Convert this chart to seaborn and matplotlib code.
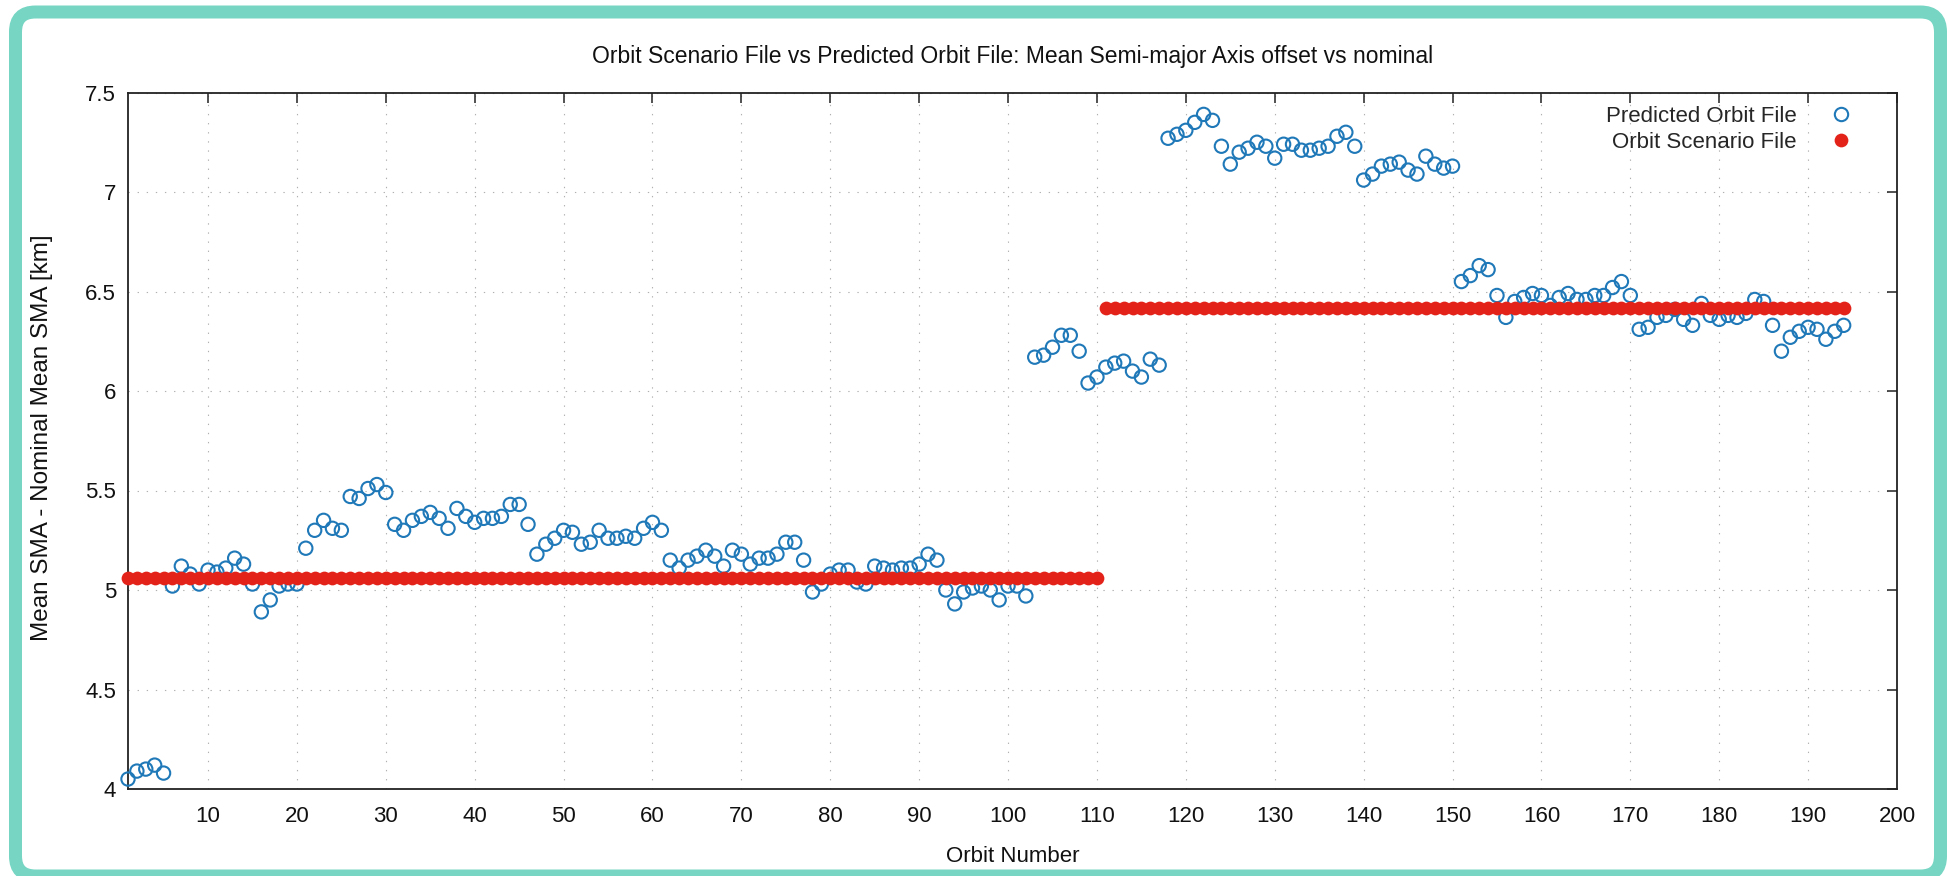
import matplotlib
matplotlib.use("Agg")
import matplotlib.pyplot as plt
import matplotlib.transforms as mtransforms
from matplotlib.patches import FancyBboxPatch
from matplotlib.lines import Line2D
import numpy as np
import pandas as pd
import seaborn as sns

# ---------------- data ----------------
orbit_number = list(range(1, 195))

predicted_sma = [
    4.05, 4.09, 4.10, 4.12, 4.08, 5.02, 5.12, 5.08, 5.03, 5.10,   # 1-10
    5.09, 5.11, 5.16, 5.13, 5.03, 4.89, 4.95, 5.02, 5.03, 5.03,   # 11-20
    5.21, 5.30, 5.35, 5.31, 5.30, 5.47, 5.46, 5.51, 5.53, 5.49,   # 21-30
    5.33, 5.30, 5.35, 5.37, 5.39, 5.36, 5.31, 5.41, 5.37, 5.34,   # 31-40
    5.36, 5.36, 5.37, 5.43, 5.43, 5.33, 5.18, 5.23, 5.26, 5.30,   # 41-50
    5.29, 5.23, 5.24, 5.30, 5.26, 5.26, 5.27, 5.26, 5.31, 5.34,   # 51-60
    5.30, 5.15, 5.11, 5.15, 5.17, 5.20, 5.17, 5.12, 5.20, 5.18,   # 61-70
    5.13, 5.16, 5.16, 5.18, 5.24, 5.24, 5.15, 4.99, 5.03, 5.08,   # 71-80
    5.10, 5.10, 5.04, 5.03, 5.12, 5.11, 5.10, 5.11, 5.11, 5.13,   # 81-90
    5.18, 5.15, 5.00, 4.93, 4.99, 5.01, 5.02, 5.00, 4.95, 5.02,   # 91-100
    5.02, 4.97, 6.17, 6.18, 6.22, 6.28, 6.28, 6.20, 6.04, 6.07,   # 101-110
    6.12, 6.14, 6.15, 6.10, 6.07, 6.16, 6.13, 7.27, 7.29, 7.31,   # 111-120
    7.35, 7.39, 7.36, 7.23, 7.14, 7.20, 7.22, 7.25, 7.23, 7.17,   # 121-130
    7.24, 7.24, 7.21, 7.21, 7.22, 7.23, 7.28, 7.30, 7.23, 7.06,   # 131-140
    7.09, 7.13, 7.14, 7.15, 7.11, 7.09, 7.18, 7.14, 7.12, 7.13,   # 141-150
    6.55, 6.58, 6.63, 6.61, 6.48, 6.37, 6.45, 6.47, 6.49, 6.48,   # 151-160
    6.43, 6.47, 6.49, 6.46, 6.46, 6.48, 6.48, 6.52, 6.55, 6.48,   # 161-170
    6.31, 6.32, 6.37, 6.38, 6.41, 6.36, 6.33, 6.44, 6.38, 6.36,   # 171-180
    6.38, 6.37, 6.39, 6.46, 6.45, 6.33, 6.20, 6.27, 6.30, 6.32,   # 181-190
    6.31, 6.26, 6.30, 6.33,                                       # 191-194
]

scenario_sma = [5.06] * 110 + [6.415] * 84

x_ticks = list(range(10, 201, 10))
y_ticks = [4.0, 4.5, 5.0, 5.5, 6.0, 6.5, 7.0, 7.5]
y_tick_labels = ["4", "4.5", "5", "5.5", "6", "6.5", "7", "7.5"]

series_labels = ["Predicted Orbit File", "Orbit Scenario File"]
title_text = "Orbit Scenario File vs Predicted Orbit File: Mean Semi-major Axis offset vs nominal"
x_label = "Orbit Number"
y_label = "Mean SMA - Nominal Mean SMA [km]"

# ---------------- style ----------------
sns.set_theme(style="white")
plt.rcParams["font.family"] = ["Liberation Sans", "DejaVu Sans"]

BLUE = "#1f78b8"
RED = "#e3231a"
TEAL = "#76d6c3"

W, H = 1947, 876
L, R, T, B = 128, 1897, 92.5, 789

fig = plt.figure(figsize=(W / 100, H / 100), dpi=100)
fig.patch.set_facecolor("white")
ax = fig.add_axes([L / W, 1 - B / H, (R - L) / W, (B - T) / H])


def ax_x(px):
    return (px - L) / (R - L)


def ax_y(py):
    return (B - py) / (B - T)


df = pd.DataFrame({
    "orbit": orbit_number,
    "predicted": predicted_sma,
    "scenario": scenario_sma,
})

sns.scatterplot(data=df, x="orbit", y="predicted", ax=ax, marker="o", s=92,
                color=BLUE, facecolors="none", edgecolor=BLUE, linewidth=1.5,
                zorder=3, clip_on=False)
sns.scatterplot(data=df, x="orbit", y="scenario", ax=ax, marker="o", s=98,
                color=RED, edgecolor=RED, linewidth=0, zorder=4, clip_on=False)

ax.set_xlim(1, 200)
ax.set_ylim(4, 7.5)
ax.set_xticks(x_ticks)
ax.set_xticklabels([str(v) for v in x_ticks])
ax.set_yticks(y_ticks)
ax.set_yticklabels(y_tick_labels)
ax.set_xlabel("")
ax.set_ylabel("")

ax.grid(True, linestyle=(0, (1.2, 7)), color="#b0b0b0", linewidth=0.8)
ax.set_axisbelow(True)

for sp in ax.spines.values():
    sp.set_visible(True)
    sp.set_color("#222222")
    sp.set_linewidth(1.3)

ax.tick_params(axis="both", which="major", direction="in", length=7.2, width=1.1,
               color="#222222", top=True, right=True, labelsize=16,
               labelcolor="#111111")
ax.tick_params(axis="x", pad=12)
ax.tick_params(axis="y", pad=8.5)

# legend (text first, then marker, gnuplot style)
handles = [
    Line2D([], [], linestyle="", marker="o", markersize=9.6,
           markerfacecolor="none", markeredgecolor=BLUE, markeredgewidth=1.5),
    Line2D([], [], linestyle="", marker="o", markersize=9.9,
           markerfacecolor=RED, markeredgecolor=RED, markeredgewidth=0),
]
ax.legend(handles, series_labels, loc="upper right",
          bbox_to_anchor=(ax_x(1852), ax_y(106)), frameon=False,
          markerfirst=False, handlelength=1.0, handletextpad=1.49,
          borderpad=0, borderaxespad=0, labelspacing=0.22, fontsize=16)

# titles / labels
fig.text((L + R) / 2 / W, 1 - 57 / H, title_text, ha="center", va="center",
         fontsize=16.5, color="#111111")
fig.text((L + R) / 2 / W, 1 - 857 / H, x_label, ha="center", va="center",
         fontsize=16, color="#111111")
fig.text(42 / W, 1 - 438 / H, y_label, ha="center", va="center",
         rotation=90, fontsize=17.5, color="#111111")

# teal rounded frame around the picture
frame = FancyBboxPatch((15.5, 0), 1925, 864,
                       boxstyle="round,pad=0,rounding_size=20",
                       transform=mtransforms.IdentityTransform(),
                       facecolor="none", edgecolor=TEAL, linewidth=13 * 0.72,
                       zorder=10)
fig.add_artist(frame)

fig.savefig("out.png", dpi=100, facecolor="white")
